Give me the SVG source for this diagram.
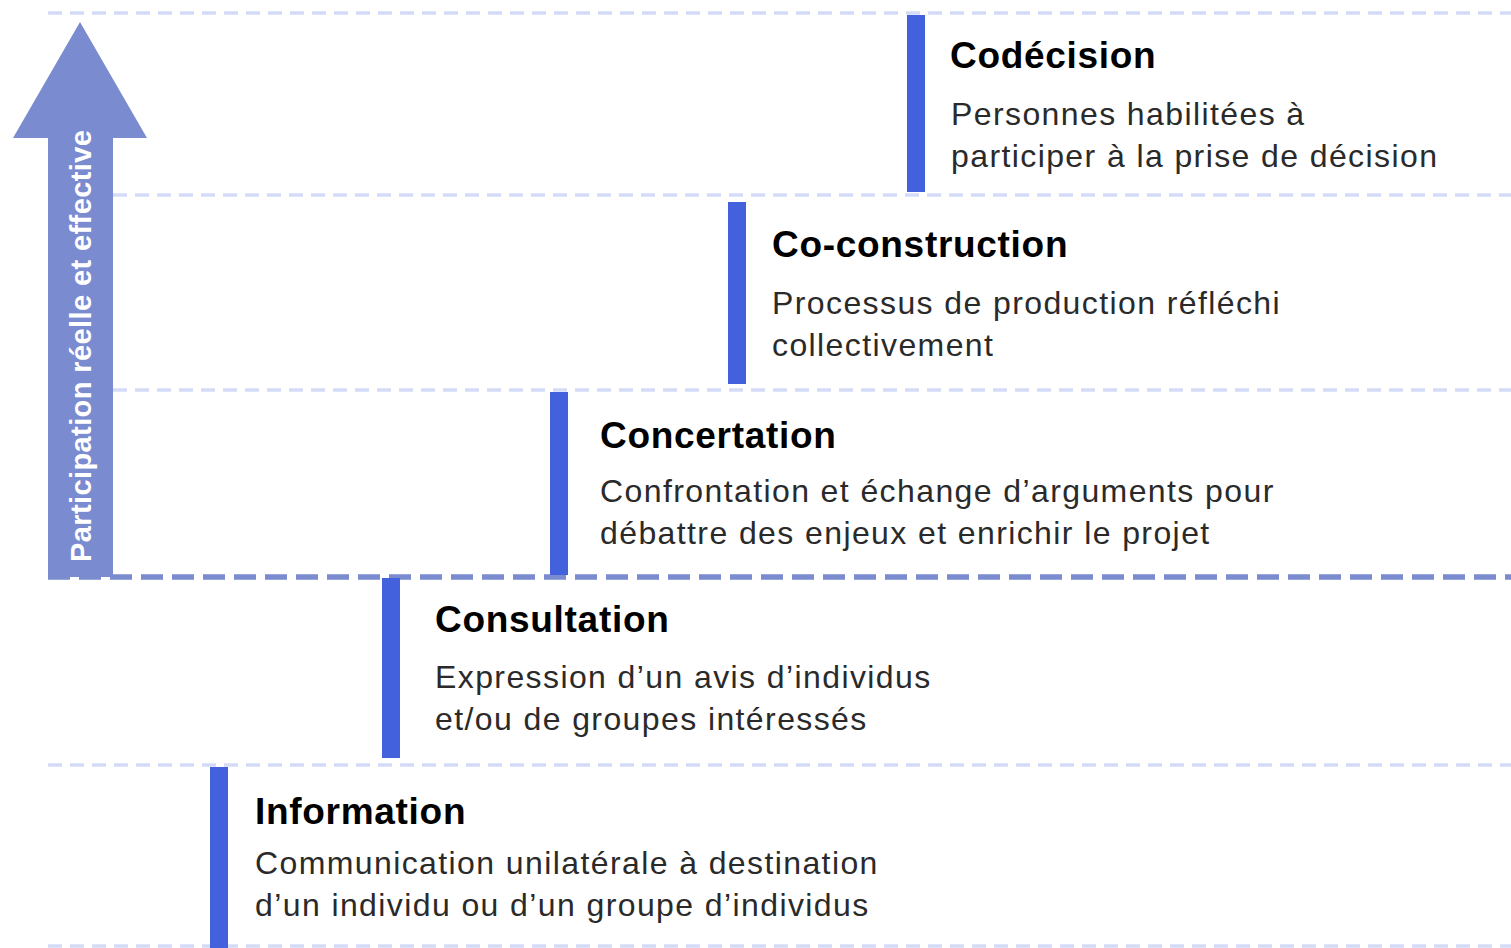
<svg xmlns="http://www.w3.org/2000/svg" width="1511" height="948" viewBox="0 0 1511 948">
<style>
.light{stroke:#d3dbf7;stroke-width:3.5;stroke-dasharray:14 8;fill:none}
.dark{stroke:#7a8bcf;stroke-width:5.5;stroke-dasharray:22 9;fill:none}
.bar{fill:#4361dd}
.title{font-family:"Liberation Sans",Arial,sans-serif;font-weight:bold;font-size:37px;letter-spacing:0.7px;fill:#000}
.desc{font-family:"Liberation Sans",Arial,sans-serif;font-size:32px;letter-spacing:1.4px;fill:#2a2a2a}
</style>
<rect width="1511" height="948" fill="#fff"/>
<g id="connectors">
<line class="light" x1="48" y1="13" x2="1511" y2="13"/>
<line class="light" x1="113" y1="195" x2="1511" y2="195"/>
<line class="light" x1="113" y1="390" x2="1511" y2="390"/>
<line class="light" x1="48" y1="765" x2="1511" y2="765"/>
<line class="light" x1="48" y1="946" x2="1511" y2="946"/>
</g>
<g id="arrow">
<polygon points="80,22 147,138 113,138 113,577 48,577 48,138 13,138" fill="#7a8bcf"/>
<text transform="translate(91,562) rotate(-90)" font-family="Liberation Sans,Arial,sans-serif" font-weight="bold" font-size="29" letter-spacing="0.4" fill="#fff">Participation réelle et effective</text>
</g>
<line class="dark" x1="48" y1="577" x2="1511" y2="577"/>
<g id="codecision">
<rect class="bar" x="907" y="15" width="18" height="177"/>
<text class="title" x="950" y="68">Codécision</text>
<text class="desc" x="951" y="125">Personnes habilitées à</text>
<text class="desc" x="951" y="167">participer à la prise de décision</text>
</g>
<g id="coconstruction">
<rect class="bar" x="728" y="202" width="18" height="182"/>
<text class="title" x="772" y="257">Co-construction</text>
<text class="desc" x="772" y="314">Processus de production réfléchi</text>
<text class="desc" x="772" y="356">collectivement</text>
</g>
<g id="concertation">
<rect class="bar" x="550" y="392" width="18" height="183"/>
<text class="title" x="600" y="448">Concertation</text>
<text class="desc" x="600" y="502">Confrontation et échange d’arguments pour</text>
<text class="desc" x="600" y="544">débattre des enjeux et enrichir le projet</text>
</g>
<g id="consultation">
<rect class="bar" x="382" y="578" width="18" height="180"/>
<text class="title" x="435" y="632">Consultation</text>
<text class="desc" x="435" y="688">Expression d’un avis d’individus</text>
<text class="desc" x="435" y="730">et/ou de groupes intéressés</text>
</g>
<g id="information">
<rect class="bar" x="210" y="767" width="18" height="181"/>
<text class="title" x="255" y="824">Information</text>
<text class="desc" x="255" y="874">Communication unilatérale à destination</text>
<text class="desc" x="255" y="916">d’un individu ou d’un groupe d’individus</text>
</g>
</svg>
